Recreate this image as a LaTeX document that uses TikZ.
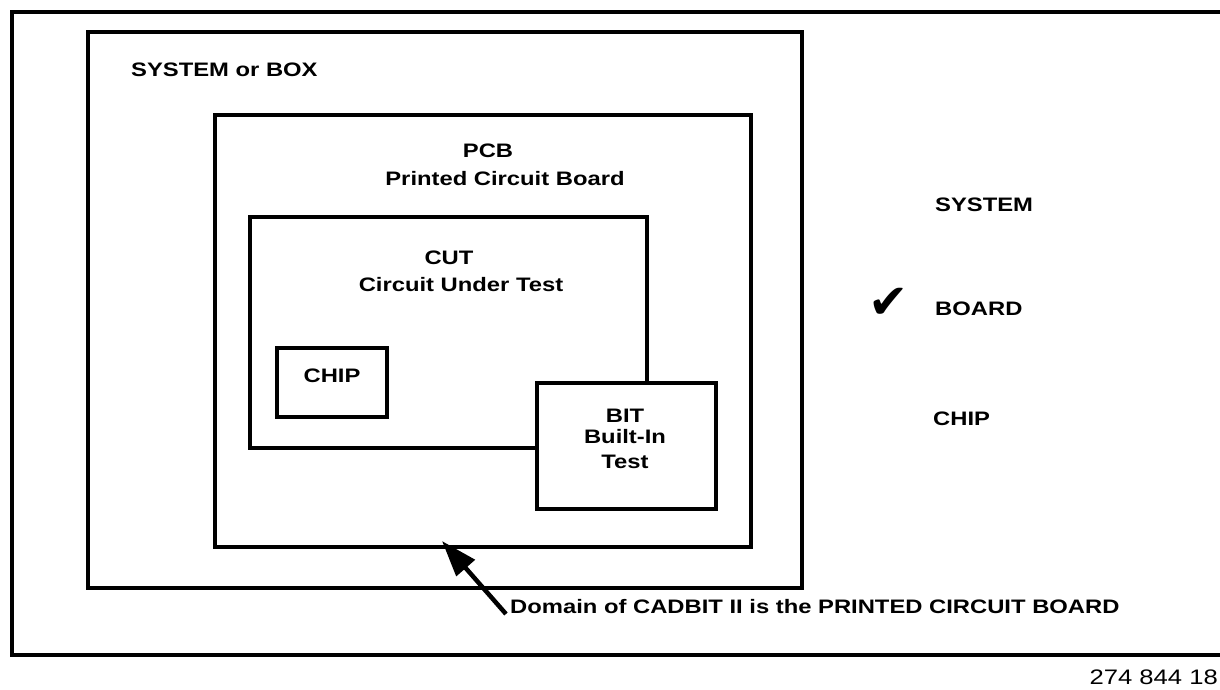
\documentclass[tikz,border=0pt]{standalone}
\usepackage{fontspec}
\usetikzlibrary{arrows.meta}
\newfontfamily\lblfont{Liberation Sans}[FakeStretch=1.22]
\newfontfamily\ckfont{DejaVu Sans}
\begin{document}
\begin{tikzpicture}[x=1pt,y=-1pt,
  box/.style={draw=black, line width=3.4pt, fill=white, inner sep=0pt},
  lbl/.style={font=\lblfont\bfseries\fontsize{19.5}{22}\selectfont, inner sep=0pt},
  idtxt/.style={font=\lblfont\fontsize{21}{24}\selectfont, inner sep=0pt},
  arr/.style={line width=4.5pt, -{Triangle[length=36pt,width=24pt]}}
]
\useasboundingbox (0,0) rectangle (1220,689);
% outer frame (open to the right)
\draw[line width=3.4pt] (1226,12) -- (12,12) -- (12,655) -- (1226,655);
% boxes
\node[box, minimum width=714pt, minimum height=556pt] (sys) at (445,310) {};
\node[box, minimum width=536pt, minimum height=432pt] (pcb) at (483,331) {};
\node[box, minimum width=397pt, minimum height=231pt] (cut) at (448.5,332.5) {};
\node[box, minimum width=110pt, minimum height=69pt] (chipbox) at (332,382.5) {};
\node[box, minimum width=179pt, minimum height=126pt] (bit) at (626.5,446) {};
% labels
\node[lbl, anchor=west] (systxt) at (131,70) {SYSTEM or BOX};
\node[lbl] (pcbtxt) at (488,151) {PCB};
\node[lbl] (pcbsub) at (505,179) {Printed Circuit Board};
\node[lbl] (cuttxt) at (449,258) {CUT};
\node[lbl] (cutsub) at (461,285) {Circuit Under Test};
\node[lbl] (chiptxt) at (332,376) {CHIP};
\node[lbl] (bittxt) at (625,416) {BIT};
\node[lbl] (bitsub1) at (625,437) {Built-In};
\node[lbl] (bitsub2) at (625,461.5) {Test};
\node[lbl, anchor=west] (rsys) at (935,205) {SYSTEM};
\node[font=\ckfont\fontsize{48}{50}\selectfont, inner sep=0pt] (check) at (889,303) {✔};
\node[lbl, anchor=west] (rboard) at (935,309) {BOARD};
\node[lbl, anchor=west] (rchip) at (933,419) {CHIP};
\node[lbl, anchor=west] (dom) at (510,607) {Domain of CADBIT II is the PRINTED CIRCUIT BOARD};
\node[idtxt, anchor=east] (idnum) at (1218,677) {274 844 18};
% arrow
\coordinate (tail) at (506,614);
\coordinate (tip) at (442,541);
\draw[arr] (tail) -- (tip);
\end{tikzpicture}
\end{document}
